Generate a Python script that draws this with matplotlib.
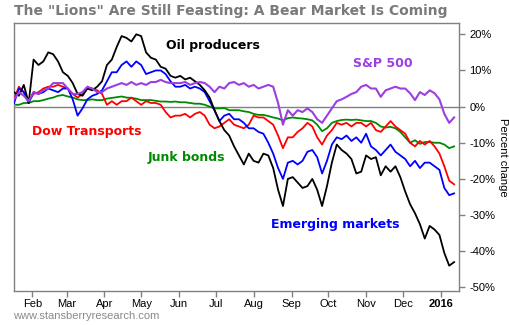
import pandas as pd
import matplotlib
matplotlib.use("Agg")
import matplotlib.pyplot as plt

# 4-day samples, 17 Jan 2015 -> 12 Jan 2016
dates = pd.date_range("2015-01-17", periods=91, freq="4D")

oil = [4, 3, 6, 1, 13, 11.5, 12.5, 15, 14.5, 12.5,
       9.5, 8.5, 6.5, 3.5, 3, 5, 4.5, 5.5, 7, 11.5,
       13, 16.5, 19.5, 19, 18, 20, 19.5, 15, 13.5, 13,
       11, 10.5, 8.5, 8, 8.5, 7.5, 8, 7, 6, 4.5,
       2.5, -1, -4, -6.5, -8, -11, -13.5, -16, -13, -15,
       -15.5, -13, -13.5, -17, -23, -27.5, -20, -19.5, -21, -22.5,
       -22, -20, -23, -27.5, -22, -15.5, -10.5, -12, -13, -14.5,
       -18.5, -18, -13.5, -14.5, -14, -19, -16.5, -18, -16.5, -19.5,
       -23.5, -27, -29.5, -32.5, -36.5, -33, -34, -35.5, -40.5, -44,
       -43]

emerging = [1, 5, 4, 1, 4, 3.5, 4, 5, 4.5, 4,
            5, 5, 2, -2.5, -0.5, 2, 3, 3.5, 4.5, 7,
            9.5, 9.5, 11.5, 12.5, 11, 12.5, 11.5, 9, 9.5, 10,
            10, 9, 7, 5.5, 5.5, 6, 5, 5.5, 5, 4,
            1.5, -1, -4, -2.5, -2, -3.5, -3.5, -4.5, -6, -6,
            -7, -7.5, -10, -13, -17, -20, -15.5, -15, -16, -15,
            -12.5, -12, -14, -18.5, -15, -10.5, -8.5, -9, -8, -9.5,
            -8.5, -10, -7.5, -11, -12, -13.5, -12, -10.5, -12.5, -13.5,
            -14.5, -16.5, -15, -17, -15.5, -15.5, -16.5, -17.5, -22.5, -24.5,
            -24]

transports = [2, 5.5, 4, 1.5, 3.5, 4, 5, 5.5, 5.5, 6,
              5.5, 5, 3.5, 2.5, 3.5, 5, 5, 4.5, 3.5, 0.5,
              1.5, 0.5, 1.5, 1.5, 2.5, 1.5, 0.5, 1.5, 1, 1,
              0.5, -1.5, -3, -2.5, -2.5, -2, -3, -2, -1.5, -2.5,
              -5, -6, -5.5, -4.5, -3.5, -5, -5.5, -6, -5, -2.5,
              -3, -3, -4, -5, -8, -11.5, -8.5, -8.5, -7, -6,
              -4.5, -5.5, -8.5, -10.5, -8, -6.5, -4.5, -5, -4.5, -5.5,
              -4.5, -4.5, -5.5, -4.5, -6.5, -7, -5.5, -4, -5.5, -6.5,
              -7.5, -10, -11, -9.5, -10.5, -9.5, -11, -13, -16.5, -20.5,
              -21.5]

junk = [0.5, 0.5, 1, 1, 1.5, 1.5, 1.8, 2.2, 2.5, 3,
        3.2, 2.8, 2.5, 2, 1.8, 1.8, 2, 1.8, 1.8, 2.2,
        2.4, 2.6, 2.8, 2.5, 2.4, 2.2, 1.8, 1.8, 1.8, 1.6,
        1.4, 1.4, 1.3, 1.4, 1.2, 1.2, 1, 0.8, 0.8, 0.5,
        0, -0.5, -0.5, -0.4, -1, -1, -1, -1.3, -1.5, -2,
        -2.3, -2.3, -2.6, -3, -3.3, -3.8, -3.2, -3, -3.2, -3.3,
        -3.5, -3.8, -5, -6.8, -6, -4.5, -4, -3.7, -3.6, -3.7,
        -3.6, -3.8, -4, -4, -4.5, -5.5, -5.8, -5.6, -6, -7,
        -8.5, -10, -9.3, -10.3, -9.8, -9.8, -10, -10, -10.5, -11.5,
        -11]

sp500 = [2, 4, 3, 1.5, 4, 3.5, 4.5, 5, 6.5, 6.5,
         6.5, 5, 3.5, 3.5, 4, 5.5, 5, 4, 4, 5,
         5.5, 6, 6.5, 6, 6.8, 6, 6.5, 6, 6.8, 6.8,
         7.4, 6.8, 6.5, 6.5, 6.5, 6.8, 6, 6.5, 6.8, 6.5,
         5.5, 4, 5.5, 5, 6.5, 6.8, 6, 6.5, 5.5, 6,
         5, 5.5, 6, 5.5, 1, -5, -1, -2.5, -1, -1.5,
         -0.5, -1.5, -3.5, -4.5, -2.5, -0.5, 1.5, 2, 2.7, 3.5,
         4, 5.5, 6, 5, 5, 2.7, 4.5, 5, 5.5, 5,
         5, 3.7, 1.8, 4, 3.2, 4.5, 3.7, 2, -2, -4.5,
         -3]

month_ticks = pd.date_range("2015-02-01", "2016-01-01", freq="MS")
month_labels = ["Feb", "Mar", "Apr", "May", "Jun", "Jul", "Aug",
                "Sep", "Oct", "Nov", "Dec", "2016"]
y_ticks = [20, 10, 0, -10, -20, -30, -40, -50]

grey = "#808080"
purple = "#9b3fe0"
green = "#008a00"

fig = plt.figure(figsize=(5.1, 3.25), dpi=100)
ax = fig.add_axes([0.0275, 0.1046, 0.8725, 0.8244])

ax.axhline(0, color=grey, lw=1, zorder=1)
ax.plot(dates, junk, color=green, lw=1.3, zorder=2)
ax.plot(dates, transports, color="red", lw=1.3, zorder=3)
ax.plot(dates, emerging, color="blue", lw=1.3, zorder=4)
ax.plot(dates, oil, color="black", lw=1.3, zorder=5)
ax.plot(dates, sp500, color=purple, lw=1.5, zorder=6)

ax.set_xlim(pd.Timestamp("2015-01-17"), pd.Timestamp("2016-01-16"))
ax.set_ylim(-51, 23.1)

for s in ax.spines.values():
    s.set_color(grey)
    s.set_linewidth(1)

ax.yaxis.tick_right()
ax.yaxis.set_label_position("right")
ax.set_yticks(y_ticks)
ax.set_yticklabels(["%d%%" % v for v in y_ticks], fontsize=8,
                   family="Liberation Sans")
ax.set_ylabel("Percent change", rotation=270, labelpad=9, fontsize=8,
              family="Liberation Sans")

ax.set_xticks(month_ticks)
ax.set_xticklabels(month_labels, fontsize=8, family="Liberation Sans")
ax.get_xticklabels()[-1].set_fontweight("bold")
ax.tick_params(colors=grey, length=4, width=1, labelcolor="black")
ax.tick_params(axis="x", pad=2)

lab = dict(fontsize=9, fontweight="bold", family="DejaVu Sans", va="center")
ax.text(pd.Timestamp("2015-05-21"), 16.8, "Oil producers", color="black",
        **lab)
ax.text(pd.Timestamp("2015-10-21"), 11.8, "S&P 500", color=purple, **lab)
ax.text(pd.Timestamp("2015-02-01"), -6.8, "Dow Transports", color="red",
        **lab)
ax.text(pd.Timestamp("2015-05-06"), -14, "Junk bonds", color=green, **lab)
ax.text(pd.Timestamp("2015-08-15"), -32.5, "Emerging markets",
        color="blue", **lab)

fig.text(0.028, 0.966, 'The "Lions" Are Still Feasting: A Bear Market Is Coming',
         fontsize=10, fontweight="bold", color="#7a7a7a",
         family="DejaVu Sans", va="center")
fig.text(0.026, 0.028, "www.stansberryresearch.com", fontsize=8,
         color="#8a8a8a", family="Liberation Sans", va="center")

fig.savefig("out.png", dpi=100)
